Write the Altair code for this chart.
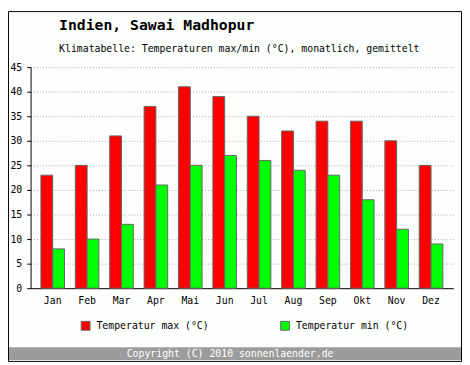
import altair as alt
import pandas as pd

months = ["Jan", "Feb", "Mar", "Apr", "Mai", "Jun", "Jul", "Aug", "Sep", "Okt", "Nov", "Dez"]
t_max = [23, 25, 31, 37, 41, 39, 35, 32, 34, 34, 30, 25]
t_min = [8, 10, 13, 21, 25, 27, 26, 24, 23, 18, 12, 9]
series = ["Temperatur max (°C)", "Temperatur min (°C)"]
colors = ["#ff0000", "#00ff00"]
y_ticks = list(range(0, 50, 5))

title_text = "Indien, Sawai Madhopur"
subtitle_text = "Klimatabelle: Temperaturen max/min (°C), monatlich, gemittelt"
copyright_text = "Copyright (C) 2010 sonnenlaender.de"

FONT = "DejaVu Sans Mono"
W, H = 430, 225
PAD = {"left": 23, "top": 57, "right": 9, "bottom": 75}

rows = []
for m, a, b in zip(months, t_max, t_min):
    rows.append({"Monat": m, "Reihe": series[0], "Wert": a})
    rows.append({"Monat": m, "Reihe": series[1], "Wert": b})
df = pd.DataFrame(rows)

bars = alt.Chart(df).mark_bar(stroke="#666666", strokeWidth=1).encode(
    x=alt.X("Monat:N", sort=months,
            scale=alt.Scale(paddingInner=0.314, paddingOuter=0.3),
            axis=alt.Axis(title=None, labelAngle=0, ticks=False, domainColor="#000000",
                          labelFont=FONT, labelFontSize=10, labelColor="#000000",
                          labelPadding=8, grid=False)),
    xOffset=alt.XOffset("Reihe:N", sort=series,
                        scale=alt.Scale(paddingInner=0, paddingOuter=0)),
    y=alt.Y("Wert:Q", scale=alt.Scale(domain=[0, 45], nice=False),
            axis=alt.Axis(title=None, values=y_ticks, grid=True, gridDash=[1, 2],
                          gridColor="#a8a8a8", domainColor="#000000", tickColor="#000000",
                          tickSize=4, labelFont=FONT, labelFontSize=10, labelColor="#000000",
                          labelPadding=5)),
    color=alt.Color("Reihe:N", sort=series,
                    scale=alt.Scale(domain=series, range=colors),
                    legend=alt.Legend(title=None, orient="none", legendX=51, legendY=258,
                                      direction="horizontal", symbolType="square",
                                      symbolSize=81, symbolStrokeColor="#666666",
                                      symbolStrokeWidth=1, symbolOpacity=1,
                                      labelFont=FONT, labelFontSize=10, labelColor="#000000",
                                      labelOffset=6, columnPadding=70, padding=0,
                                      labelLimit=300)),
)

title = alt.Chart(pd.DataFrame({"t": [title_text]})).mark_text(
    font=FONT, fontSize=15, fontWeight="bold", align="left", baseline="alphabetic",
    color="#000000").encode(x=alt.value(29), y=alt.value(-38), text="t:N")

subtitle = alt.Chart(pd.DataFrame({"t": [subtitle_text]})).mark_text(
    font=FONT, fontSize=10, align="left", baseline="alphabetic",
    color="#000000").encode(x=alt.value(29), y=alt.value(-15), text="t:N")

cbar = alt.Chart(pd.DataFrame({"t": [copyright_text]})).mark_rect(
    color="#9c9c9c").encode(x=alt.value(-22), x2=alt.value(438),
                            y=alt.value(285), y2=alt.value(298))

ctext = alt.Chart(pd.DataFrame({"t": [copyright_text]})).mark_text(
    font=FONT, fontSize=10, align="center", baseline="middle",
    color="#ffffff").encode(x=alt.value(203), y=alt.value(291.5), text="t:N")

frame = alt.Chart(pd.DataFrame({"t": [copyright_text]})).mark_rect(
    fill="transparent", stroke="#000000", strokeWidth=1).encode(
    x=alt.value(-22.5), x2=alt.value(438.5), y=alt.value(-56.5), y2=alt.value(299.5))

chart = alt.layer(cbar, bars, title, subtitle, ctext, frame).properties(
    width=W, height=H,
    autosize=alt.AutoSizeParams(type="none"),
    padding=PAD,
    background="#fcfefc",
).configure_view(stroke="transparent")

chart.save("out.html", embed_options={"renderer": "svg", "actions": False})
